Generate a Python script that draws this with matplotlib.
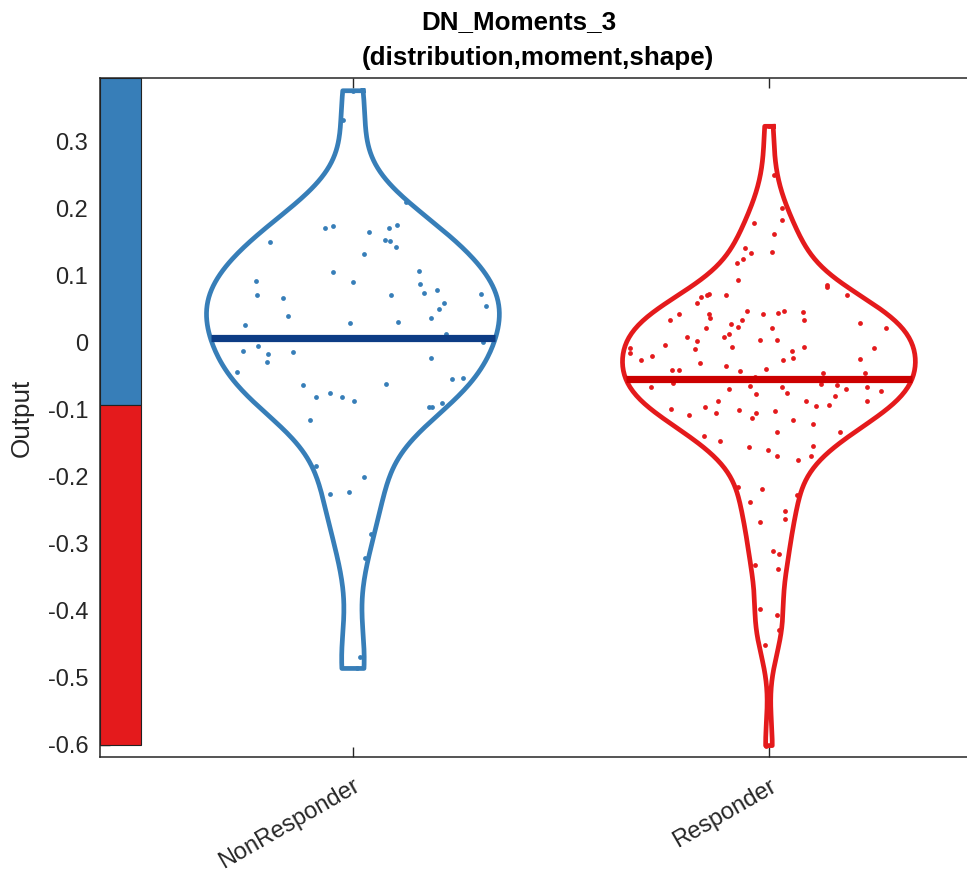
import numpy as np
import matplotlib.pyplot as plt
from matplotlib.patches import Rectangle

plt.rcParams['font.family'] = ['Liberation Sans', 'DejaVu Sans']

# --- data ---
groups = ['NonResponder', 'Responder']
threshold = -0.093
medians = [0.006, -0.055]

# NonResponder points: jitter offset from the group centre, value
nr_jit = [-0.001, -0.025, 0.127, -0.068, -0.047, 0.038, 0.087, 0.105, 0.076, 0.089,
          0.103, -0.200, 0.026, -0.049, 0.159, -0.001, -0.233, 0.161, 0.203, 0.171,
          0.091, -0.231, -0.168, 0.308, 0.219, 0.319, 0.206, -0.156, 0.187, 0.109,
          -0.007, -0.260, 0.223, 0.312, -0.264, -0.228, -0.204, -0.144, -0.206, 0.188,
          -0.278, -0.121, 0.080, 0.237, 0.264, -0.089, -0.055, -0.026, 0.002, 0.183,
          0.190, 0.213, -0.103, -0.089, 0.026, -0.055, -0.009, 0.043, 0.029, 0.017,
          0.010]
nr_val = [0.375, 0.331, 0.209, 0.170, 0.174, 0.164, 0.171, 0.175, 0.152, 0.151,
          0.142, 0.149, 0.132, 0.105, 0.106, 0.090, 0.092, 0.087, 0.078, 0.073,
          0.070, 0.070, 0.066, 0.072, 0.059, 0.054, 0.050, 0.039, 0.037, 0.031,
          0.029, 0.026, 0.012, 0.001, -0.013, -0.006, -0.017, -0.015, -0.030, -0.024,
          -0.044, -0.064, -0.062, -0.054, -0.053, -0.082, -0.076, -0.082, -0.088, -0.096,
          -0.097, -0.090, -0.116, -0.184, -0.201, -0.226, -0.223, -0.286, -0.322, -0.469,
          -0.486]

# Responder points
r_jit = [0.000, 0.013, 0.032, 0.032, -0.035, 0.013, -0.058, -0.043, 0.008, -0.063, -0.077,
         -0.074, 0.140, 0.139, 0.188, -0.143, -0.150, -0.164, -0.104, -0.173, -0.215,
         -0.239, -0.143, -0.141, -0.053, -0.015, 0.021, 0.036, 0.082, 0.085, -0.064,
         -0.090, -0.074, -0.151, 0.008, 0.218, 0.281, -0.095, -0.107, -0.198, -0.174,
         -0.021, 0.020, -0.250, -0.177, -0.089, 0.085, 0.055, 0.252, -0.334, -0.334,
         -0.281, -0.308, 0.059, 0.034, 0.218, -0.165, -0.104, -0.008, -0.234, -0.217,
         -0.069, 0.230, 0.131, -0.034, -0.231, 0.126, 0.163, -0.046, -0.283, 0.031,
         0.185, 0.235, 0.270, -0.097, 0.043, -0.032, 0.159, -0.123, 0.088, 0.235,
         0.114, 0.144, -0.154, -0.236, -0.072, -0.193, -0.127, 0.015, -0.031, -0.041,
         0.058, 0.105, 0.019, 0.172, -0.156, -0.118, 0.105, -0.049, -0.002, 0.019,
         0.070, 0.102, -0.074, -0.016, 0.067, -0.046, 0.038, 0.038, -0.022, 0.010,
         0.024, -0.034, 0.022, -0.022, 0.019, 0.024, -0.010, -0.007]
r_val = [0.322, 0.249, 0.200, 0.183, 0.178, 0.162, 0.140, 0.133, 0.134, 0.124, 0.119,
         0.093, 0.086, 0.083, 0.070, 0.072, 0.070, 0.067, 0.071, 0.059, 0.042,
         0.034, 0.042, 0.037, 0.046, 0.043, 0.044, 0.047, 0.045, 0.034, 0.034,
         0.028, 0.023, 0.021, 0.021, 0.029, 0.022, 0.012, 0.008, 0.008, 0.002,
         0.004, 0.003, -0.004, -0.010, -0.007, -0.007, -0.013, -0.009, -0.009, -0.016,
         -0.021, -0.027, -0.023, -0.026, -0.025, -0.031, -0.035, -0.039, -0.041, -0.041,
         -0.043, -0.045, -0.046, -0.051, -0.060, -0.062, -0.064, -0.065, -0.067, -0.067,
         -0.069, -0.066, -0.072, -0.070, -0.076, -0.077, -0.080, -0.087, -0.087, -0.088,
         -0.095, -0.093, -0.096, -0.100, -0.101, -0.109, -0.106, -0.103, -0.106, -0.113,
         -0.116, -0.121, -0.134, -0.134, -0.140, -0.147, -0.154, -0.156, -0.161, -0.170,
         -0.175, -0.170, -0.216, -0.219, -0.227, -0.238, -0.252, -0.264, -0.268, -0.311,
         -0.316, -0.332, -0.338, -0.397, -0.407, -0.428, -0.451, -0.601]

edge_cols = ['#377eb8', '#e41a1c']
med_cols = ['#0d3c85', '#cc0000']
half_width = 0.352


def kde_outline(vals):
    v = np.asarray(vals)
    sig = np.median(np.abs(v - np.median(v))) / 0.6745
    bw = sig * (4.0 / (3 * len(v))) ** 0.2
    ys = np.linspace(v.min(), v.max(), 300)
    dens = np.exp(-0.5 * ((ys[:, None] - v[None, :]) / bw) ** 2).sum(axis=1)
    return ys, dens / dens.max() * half_width


fig = plt.figure(figsize=(9.67, 8.72), dpi=100)
ax = fig.add_axes([100 / 967, 115 / 872, 0.9, 679 / 872])
ax.set_xlim(0.392, 0.392 + 0.9 * 967 / 416)
ax.set_ylim(-0.618, 0.394)

# class bar on the left
y0, y1 = ax.get_ylim()
ax.add_patch(Rectangle((0.392, threshold), 0.099, y1 - threshold,
                       facecolor='#377eb8', edgecolor='#222222', lw=0.8, zorder=3))
ax.add_patch(Rectangle((0.392, -0.6), 0.099, threshold + 0.6,
                       facecolor='#e41a1c', edgecolor='#222222', lw=0.8, zorder=3))

for i, (jit, vals) in enumerate([(nr_jit, nr_val), (r_jit, r_val)]):
    pos = i + 1
    ys, w = kde_outline(vals)
    xs = np.concatenate([pos + w[::-1], pos - w, [pos + w[-1]]])
    yy = np.concatenate([ys[::-1], ys, [ys[-1]]])
    ax.plot(xs, yy, color=edge_cols[i], lw=3.4, zorder=2, solid_joinstyle='round')
    ax.plot([pos - w[0], pos + w[0]], [ys[0], ys[0]], color=edge_cols[i], lw=1.2, zorder=2)
    ax.scatter(pos + np.asarray(jit), vals, s=12, color=edge_cols[i], lw=0, zorder=4)
    mw = np.interp(medians[i], ys, w)
    ax.plot([pos - mw, pos + mw], [medians[i], medians[i]], color=med_cols[i],
            lw=5.2, zorder=5, solid_capstyle='butt')

yt = np.round(np.arange(-0.6, 0.31, 0.1), 1)
ax.set_yticks(yt)
ax.set_yticklabels(['0' if abs(t) < 1e-9 else '%g' % t for t in yt])
ax.set_xticks([1, 2])
ax.set_xticklabels(groups, rotation=30, ha='right', va='top', rotation_mode='anchor')
ax.tick_params(axis='both', direction='in', length=7, width=1, colors='#262626',
               labelsize=17, top=True, right=False)
ax.tick_params(axis='x', pad=13)
ax.tick_params(axis='y', pad=8.5)
for sp in ax.spines.values():
    sp.set_color('#262626')
    sp.set_linewidth(1.1)
ax.set_ylabel('Output', fontsize=18.7, color='#262626', va='center')
ax.yaxis.set_label_coords(-78 / (0.9 * 967), 0.5)

fig.text(519 / 967, 1 - 22 / 872, 'DN_Moments_3', ha='center', va='center',
         fontsize=18.7, fontweight='bold')
fig.text(538 / 967, 1 - 58 / 872, '(distribution,moment,shape)', ha='center',
         va='center', fontsize=18.7, fontweight='bold')

fig.savefig('out.png', dpi=100)
